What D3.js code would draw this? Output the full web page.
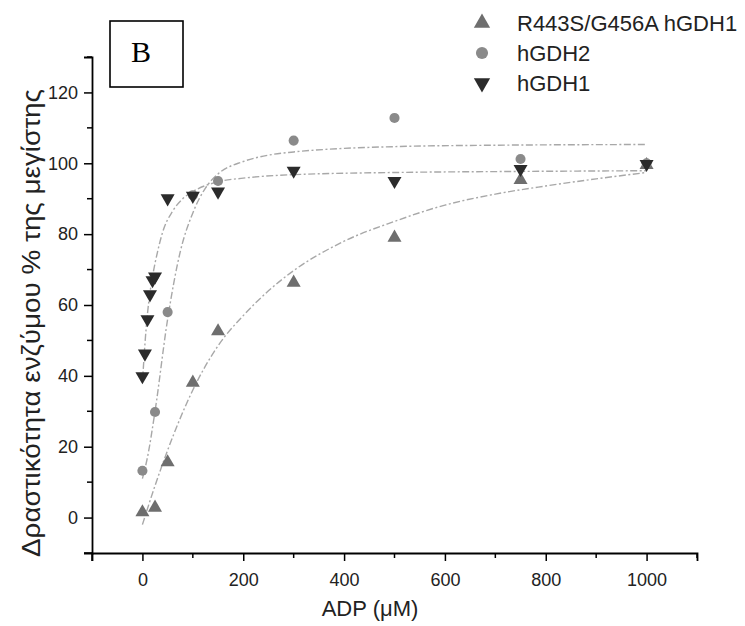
<!DOCTYPE html>
<html>
<head>
<meta charset="utf-8">
<script src="https://cdn.jsdelivr.net/npm/d3@7"></script>
<style>
  body { margin: 0; background: #fff; }
  text { font-family: "Liberation Sans", Arial, sans-serif; }
</style>
</head>
<body>
<div id="chart"></div>
<script>
// measured points (ADP µM, % of max activity)
const mutX = [0, 25, 50, 100, 150, 300, 500, 750, 1000]
const mutY = [1.5, 2.8, 15.6, 38.1, 52.6, 66.3, 79, 95.3, 99.5]

const gdh2X = [0, 25, 50, 100, 150, 300, 500, 750, 1000]
const gdh2Y = [13.2, 29.8, 58, 91, 95, 106.4, 112.8, 101.2, 100]

const gdh1X = [0, 5, 10, 15, 20, 25, 50, 100, 150, 300, 500, 750, 1000]
const gdh1Y = [39.9, 46.3, 56, 63, 67, 68, 90.1, 90.8, 92, 97.9, 95, 98.4, 99.8]

// fitted curves
const mutFitX = [0, 25, 50, 100, 150, 200, 250, 300, 400, 500, 600, 700, 800, 900, 1000]
const mutFitY = [-2, 9, 19, 36, 48.5, 57, 64, 69.7, 78, 83.6, 88.2, 91.3, 93.6, 95.6, 97.4]

const gdh2FitX = [0, 10, 25, 50, 75, 100, 125, 150, 200, 250, 300, 400, 500, 700, 1000]
const gdh2FitY = [11, 17, 30, 56, 75, 86, 93, 97, 100.5, 102.3, 103.2, 104.2, 104.7, 105.1, 105.3]

const gdh1FitX = [0, 5, 10, 15, 20, 30, 40, 60, 80, 100, 150, 200, 300, 500, 750, 1000]
const gdh1FitY = [38, 49, 57.5, 63.5, 68, 75, 80.5, 86.5, 90, 92, 94.8, 95.8, 96.8, 97.4, 97.7, 97.9]

const legendLabels = ["R443S/G456A hGDH1", "hGDH2", "hGDH1"]
const xTicks = [0, 200, 400, 600, 800, 1000]
const yTicks = [0, 20, 40, 60, 80, 100, 120]

const width = 745, height = 626

const svg = d3.select("#chart")
    .append("svg")
    .attr("width", width)
    .attr("height", height)

const x = d3.scaleLinear().domain([-100, 1100]).range([92, 697])
const y = d3.scaleLinear().domain([-10, 130]).range([553, 57])

// axes
const xAxis = svg.append("g").attr("transform", "translate(0," + y(-10) + ")")
xAxis.call(d3.axisBottom(x).tickValues(xTicks).tickSize(8).tickPadding(12).tickFormat(d3.format("d")))
xAxis.append("g").selectAll("line")
    .data(d3.range(-100, 1101, 100).filter(d => d % 200 !== 0))
    .enter().append("line")
    .attr("x1", d => x(d)).attr("x2", d => x(d))
    .attr("y1", 0).attr("y2", d => d === -100 ? 8 : 5)
    .attr("stroke", "#000").attr("stroke-width", 1.5)

const yAxis = svg.append("g").attr("transform", "translate(" + x(-100) + ",0)")
yAxis.call(d3.axisLeft(y).tickValues(yTicks).tickSize(8).tickPadding(6))
yAxis.append("g").selectAll("line")
    .data(d3.range(-10, 131, 20))
    .enter().append("line")
    .attr("y1", d => y(d)).attr("y2", d => y(d))
    .attr("x1", 0).attr("x2", d => d === -10 ? -8 : -5)
    .attr("stroke", "#000").attr("stroke-width", 1.5)

svg.selectAll(".domain").attr("stroke", "#000").attr("stroke-width", 1.8)
svg.selectAll(".tick line").attr("stroke", "#000").attr("stroke-width", 1.5)
svg.selectAll(".tick text")
    .style("font-size", "18px")
    .style("font-family", "'Liberation Sans', Arial, sans-serif")
    .attr("fill", "#222")

// axis titles
svg.append("text")
    .attr("x", 370).attr("y", 616)
    .attr("text-anchor", "middle")
    .style("font-size", "22px")
    .attr("fill", "#222")
    .text("ADP (μM)")

svg.append("text")
    .attr("transform", "translate(40,323) rotate(-90)")
    .attr("text-anchor", "middle")
    .attr("textLength", 468)
    .attr("lengthAdjust", "spacingAndGlyphs")
    .style("font-size", "25px")
    .attr("fill", "#222")
    .text("Δραστικότητα ενζύμου % της μεγίστης")

// fitted curves
const fitLine = d3.line()
    .x(d => x(d[0]))
    .y(d => y(d[1]))
    .curve(d3.curveMonotoneX)

const fits = [
    d3.zip(mutFitX, mutFitY),
    d3.zip(gdh2FitX, gdh2FitY),
    d3.zip(gdh1FitX, gdh1FitY)
]
svg.selectAll(".fit")
    .data(fits)
    .enter()
    .append("path")
    .attr("class", "fit")
    .attr("d", fitLine)
    .attr("fill", "none")
    .attr("stroke", "#a8a8a8")
    .attr("stroke-width", 1.4)
    .attr("stroke-dasharray", "7,2.5,2,2.5")

// points
const series = [
    {name: legendLabels[0], xs: mutX, ys: mutY, shape: d3.symbolTriangle, rot: 0, color: "#6e6e6e", size: 85},
    {name: legendLabels[1], xs: gdh2X, ys: gdh2Y, shape: d3.symbolCircle, rot: 0, color: "#8a8a8a", size: 80},
    {name: legendLabels[2], xs: gdh1X, ys: gdh1Y, shape: d3.symbolTriangle, rot: 180, color: "#2b2b2b", size: 85}
]

series.forEach(s => {
    svg.append("g")
        .selectAll("path")
        .data(d3.zip(s.xs, s.ys))
        .enter()
        .append("path")
        .attr("d", d3.symbol().type(s.shape).size(s.size))
        .attr("transform", d => "translate(" + x(d[0]) + "," + y(d[1]) + ") rotate(" + s.rot + ")")
        .attr("fill", s.color)
})

// legend
const legend = svg.append("g").attr("transform", "translate(482,23)")
series.forEach((s, i) => {
    const row = legend.append("g").attr("transform", "translate(0," + i * 30 + ")")
    row.append("path")
        .attr("d", d3.symbol().type(s.shape).size(115))
        .attr("transform", "rotate(" + s.rot + ")")
        .attr("fill", s.color)
    row.append("text")
        .attr("x", 35).attr("y", 8)
        .style("font-size", "22px")
        .attr("fill", "#222")
        .text(s.name)
})

// panel label
svg.append("rect")
    .attr("x", 110).attr("y", 21)
    .attr("width", 73).attr("height", 66)
    .attr("fill", "#fff")
    .attr("stroke", "#000")
    .attr("stroke-width", 1.6)
svg.append("text")
    .attr("x", 141).attr("y", 62)
    .attr("text-anchor", "middle")
    .style("font-family", "'Liberation Serif', 'Times New Roman', serif")
    .style("font-size", "30px")
    .text("B")
</script>
</body>
</html>
